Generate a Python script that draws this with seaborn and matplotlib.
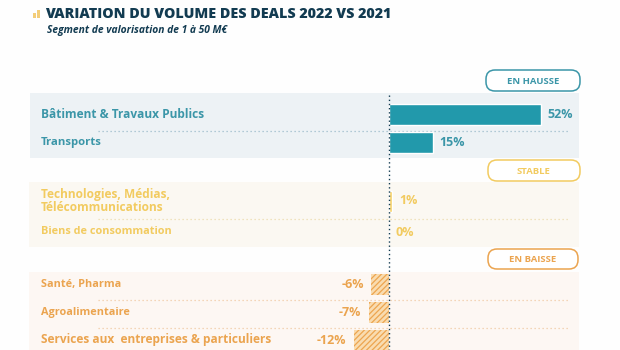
import pandas as pd
import matplotlib.pyplot as plt
import seaborn as sns
from matplotlib.patches import Rectangle, FancyBboxPatch

sns.set_theme(style="white")
plt.rcParams['font.family'] = ['Open Sans', 'DejaVu Sans']
plt.rcParams['hatch.linewidth'] = 0.9

# --- data ---
sectors = ["Bâtiment & Travaux Publics", "Transports",
           "Technologies, Médias,\nTélécommunications", "Biens de consommation",
           "Santé, Pharma", "Agroalimentaire",
           "Services aux  entreprises & particuliers"]
variation = [52, 15, 1, 0, -6, -7, -12]
trend = ["EN HAUSSE", "EN HAUSSE", "STABLE", "STABLE",
         "EN BAISSE", "EN BAISSE", "EN BAISSE"]
sections = ["EN HAUSSE", "STABLE", "EN BAISSE"]
title = "VARIATION DU VOLUME DES DEALS 2022 VS 2021"
subtitle = "Segment de valorisation de 1 à 50 M€"

# --- styles ---
bar_colors = {"EN HAUSSE": "#2299ab", "STABLE": "#f6d065", "EN BAISSE": "#f9dcb0"}
text_colors = {"EN HAUSSE": "#3b96a8", "STABLE": "#f2cb60", "EN BAISSE": "#eba44f"}
panel_colors = {"EN HAUSSE": "#edf2f5", "STABLE": "#fbf8f2", "EN BAISSE": "#fdf7f3"}
sep_colors = {"EN HAUSSE": "#9dbccb", "STABLE": "#ecdcae", "EN BAISSE": "#f0cba4"}
label_sizes = [8.6, 8.2, 8.6, 7.8, 7.8, 7.8, 8.6]
navy = "#123b51"

# layout in pixels (figure is 620x350)
W, H = 620, 350
zero_px = 389
px_per_pct = 2.92
layout = {
    "EN HAUSSE": dict(first=114.5, step=28, panel=(30, 93, 579, 158), pill=(486, 70, 580, 91)),
    "STABLE": dict(first=201, step=31, panel=(29, 182, 579, 247), pill=(488, 160, 580, 181)),
    "EN BAISSE": dict(first=284, step=28, panel=(29, 272, 579, 352), pill=(488, 249, 578, 269)),
}
label_x = 41
sep_x = (98, 570)

ypos = []
counter = {s: 0 for s in sections}
for t in trend:
    ypos.append(layout[t]["first"] + counter[t] * layout[t]["step"])
    counter[t] += 1

df = pd.DataFrame({"sector": sectors, "variation": variation, "trend": trend, "ypos": ypos})

fig = plt.figure(figsize=(6.2, 3.5), dpi=100)
fig.patch.set_facecolor("#fefefe")

# background axes in pixel coordinates
bg = fig.add_axes([0, 0, 1, 1], zorder=0)
bg.set_xlim(0, W)
bg.set_ylim(H, 0)
bg.axis("off")

# data axes
ax = fig.add_axes([0, 0, 1, 1], zorder=1)
ax.patch.set_alpha(0)

for s in sections:
    L = layout[s]
    x0, y0, x1, y1 = L["panel"]
    bg.add_patch(Rectangle((x0, y0), x1 - x0, y1 - y0, facecolor=panel_colors[s],
                           edgecolor="none", zorder=0))
    px0, py0, px1, py1 = L["pill"]
    bg.add_patch(FancyBboxPatch((px0, py0), px1 - px0, py1 - py0,
                                boxstyle="round,pad=0,rounding_size=9",
                                facecolor="white", edgecolor=text_colors[s],
                                linewidth=1.1, zorder=2))
    bg.text((px0 + px1) / 2, (py0 + py1) / 2 + 0.5, s, ha="center", va="center",
            fontsize=6.8, fontweight="bold", color=text_colors[s], zorder=3)

# row labels and separators
for i, row in df.iterrows():
    bg.text(label_x, row.ypos, row.sector, ha="left", va="center",
            fontsize=label_sizes[i], fontweight="bold", color=text_colors[row.trend],
            linespacing=1.0, zorder=3)
    if i + 1 < len(df) and df.trend[i + 1] == row.trend:
        ysep = (row.ypos + df.ypos[i + 1]) / 2 + 2
        bg.plot(sep_x, [ysep, ysep], linestyle=(0, (1, 2.2)), linewidth=0.9,
                color=sep_colors[row.trend], zorder=1)

sns.barplot(data=df, x="variation", y="ypos", hue="trend", palette=bar_colors,
            orient="h", native_scale=True, width=21 / 28, dodge=False,
            saturation=1, legend=False, ax=ax)

for p in ax.patches:
    if p.get_width() < 0 or p.get_x() < -1e-9:
        p.set_hatch("//////")
        p.set_edgecolor("#eda54f")
        p.set_linewidth(0)

ax.set_xlim(-zero_px / px_per_pct, (W - zero_px) / px_per_pct)
ax.set_ylim(H, 0)
ax.axis("off")

# zero line
ax.plot([0, 0], [95, H], linestyle=(0, (1, 2)), linewidth=1.0, color=navy, zorder=5)

# value labels
for _, row in df.iterrows():
    v = row.variation
    off = 5 if v >= 0 else -5.5
    ax.annotate(f"{v}%", xy=(v, row.ypos), xytext=(off, 0),
                textcoords="offset points", ha="left" if v >= 0 else "right",
                va="center", fontsize=9, fontweight="bold",
                color=text_colors[row.trend], zorder=6)

# title block
bg.add_patch(Rectangle((33, 13), 3, 5, facecolor="#f3cd78", edgecolor="none"))
bg.add_patch(Rectangle((37, 10), 3, 8, facecolor="#f3cd78", edgecolor="none"))
bg.text(45, 14.5, title, ha="left", va="center", fontsize=10.3, fontweight="heavy",
        color=navy)
bg.text(47, 30, subtitle, ha="left", va="center", fontsize=7.4, fontweight="bold",
        fontstyle="italic", color=navy)

fig.savefig("out.png", dpi=100, facecolor=fig.get_facecolor())
